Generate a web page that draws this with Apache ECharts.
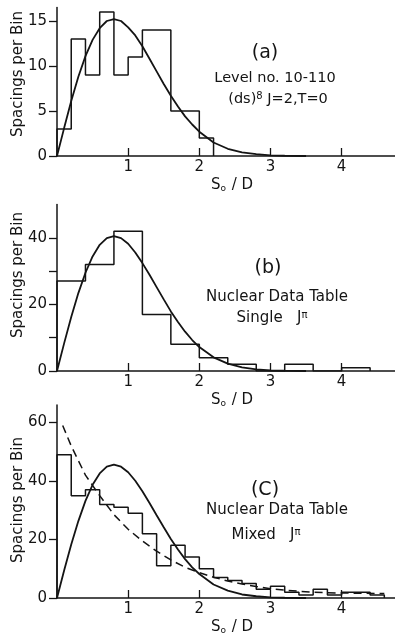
<!DOCTYPE html>
<html>
<head>
<meta charset="utf-8">
<script src="https://cdn.jsdelivr.net/npm/echarts@6/dist/echarts.min.js"></script>
<style>
  html, body { margin: 0; padding: 0; background: #fff; }
  #chart { width: 395px; height: 636px; }
</style>
</head>
<body>
<div id="chart"></div>
<script>
// histogram counts (spacings per bin), left edge at 0
const binWidthA = 0.2;
const countsA = [3, 13, 9, 16, 9, 11, 14, 14, 5, 5, 2];
const binWidthB = 0.4;
const countsB = [27, 32, 42, 17, 8, 4, 2, 0, 2, 0, 1];
const binWidthC = 0.2;
const countsC = [49, 35, 37, 32, 31, 29, 22, 11, 18, 14, 10, 7, 6, 5, 3, 4, 2, 1, 3, 1, 2, 2, 1];

// solid curves
const curveX = [0, 0.1, 0.2, 0.3, 0.4, 0.5, 0.6, 0.7, 0.8, 0.9, 1.0, 1.1, 1.2, 1.3, 1.4, 1.5, 1.6, 1.7, 1.8, 1.9, 2.0, 2.2, 2.4, 2.6, 2.8, 3.0, 3.2, 3.5];
const curveA = [0, 3.1, 6.1, 8.8, 11.1, 12.9, 14.2, 15.0, 15.2, 15.0, 14.3, 13.4, 12.2, 10.8, 9.4, 8.0, 6.7, 5.5, 4.4, 3.5, 2.7, 1.5, 0.8, 0.4, 0.2, 0.08, 0.03, 0];
const curveB = [0, 8.3, 16.2, 23.4, 29.5, 34.4, 37.9, 39.9, 40.5, 39.9, 38.2, 35.6, 32.4, 28.9, 25.2, 21.5, 17.9, 14.7, 11.8, 9.3, 7.2, 4.1, 2.2, 1.1, 0.5, 0.2, 0.08, 0];
const curveC = [0, 9.4, 18.3, 26.3, 33.2, 38.7, 42.6, 44.9, 45.6, 44.9, 43.0, 40.1, 36.5, 32.5, 28.3, 24.2, 20.2, 16.6, 13.3, 10.5, 8.2, 4.6, 2.5, 1.2, 0.6, 0.24, 0.09, 0];

// dashed curve in (c)
const dashX = [0.08, 0.2, 0.4, 0.6, 0.8, 1.0, 1.2, 1.4, 1.6, 1.8, 2.0, 2.2, 2.4, 2.6, 2.8, 3.0, 3.2, 3.4, 3.6, 3.8, 4.0, 4.3, 4.6];
const dashC = [59, 52, 42, 35, 28.5, 23.5, 19.5, 16, 13, 10.5, 8.7, 7.1, 5.8, 4.8, 3.9, 3.2, 2.7, 2.3, 2.0, 1.8, 1.7, 1.6, 1.5];

// axis ticks
const xTicks = [1, 2, 3, 4];
const yTicksA = [0, 5, 10, 15];
const yLabelsA = [0, 5, 10, 15];
const yTicksB = [0, 10, 20, 30, 40];
const yLabelsB = [0, 20, 40];
const yTicksC = [0, 20, 40, 60];
const yLabelsC = [0, 20, 40, 60];

const ink = "#141414";
const font = "DejaVu Sans";

function steps(counts, w) {
  const pts = [[0, 0]];
  counts.forEach((c, i) => {
    pts.push([i * w, c]);
    pts.push([(i + 1) * w, c]);
  });
  pts.push([counts.length * w, 0]);
  return pts;
}

function zip(xs, ys) {
  return xs.map((x, i) => [x, ys[i]]);
}

const grids = [
  { left: 57, right: 0, top: 7.5, height: 148.5 },
  { left: 57, right: 0, top: 204.5, height: 166.5 },
  { left: 57, right: 0, top: 405, height: 198 }
];

const xAxisOf = (i) => ({
  type: "value",
  gridIndex: i,
  min: 0,
  max: 4.75,
  axisLine: { lineStyle: { color: ink, width: 1.5 } },
  axisTick: { inside: true, length: 8, customValues: xTicks, lineStyle: { color: ink, width: 1.3 } },
  axisLabel: { customValues: xTicks, margin: 4, color: ink, fontSize: 15, fontFamily: font },
  splitLine: { show: false },
  name: "{s|S}{o|o}{s| / D}",
  nameLocation: "middle",
  nameGap: 19,
  nameTextStyle: {
    padding: [0, 0, 0, 12],
    rich: {
      s: { fontSize: 15, fontFamily: font, color: ink, lineHeight: 18, verticalAlign: "bottom" },
      o: { fontSize: 9, fontFamily: font, color: ink, lineHeight: 18, verticalAlign: "bottom", padding: [0, 1, 0, 0] }
    }
  }
});

const yAxisOf = (i, max, ticks, labels) => ({
  type: "value",
  gridIndex: i,
  min: 0,
  max: max,
  axisLine: { show: true, lineStyle: { color: ink, width: 1.5 } },
  axisTick: { show: true, length: 8, customValues: ticks, lineStyle: { color: ink, width: 1.3 } },
  axisLabel: { customValues: labels, margin: 10, color: ink, fontSize: 15, fontFamily: font },
  splitLine: { show: false }
});

const histStyle = { color: ink, width: 1.5 };
const curveStyle = { color: ink, width: 1.8 };

const lineSeries = (i, data, style) => ({
  type: "line",
  xAxisIndex: i,
  yAxisIndex: i,
  data: data,
  showSymbol: false,
  symbol: "none",
  smooth: false,
  lineStyle: style,
  silent: true,
  animation: false,
  z: 3
});

const txt = (x, y, text, size, rich) => ({
  type: "text",
  x: x,
  y: y,
  style: {
    text: text,
    fill: ink,
    font: size + "px " + font,
    align: "center",
    verticalAlign: "middle",
    rich: rich
  }
});

const sup = { sup: { fontSize: 10, fontFamily: font, fill: ink, verticalAlign: "top", padding: [0, 0, 6, 0] } };

const yName = (y) => ({
  type: "text",
  x: 18,
  y: y,
  rotation: Math.PI / 2,
  style: {
    text: "Spacings per Bin",
    fill: ink,
    font: "15px " + font,
    align: "center",
    verticalAlign: "middle"
  }
});

const chart = echarts.init(document.getElementById("chart"));

chart.setOption({
  animation: false,
  backgroundColor: "#fff",
  grid: grids,
  xAxis: [xAxisOf(0), xAxisOf(1), xAxisOf(2)],
  yAxis: [
    yAxisOf(0, 16.5, yTicksA, yLabelsA),
    yAxisOf(1, 50, yTicksB, yLabelsB),
    yAxisOf(2, 66, yTicksC, yLabelsC)
  ],
  series: [
    lineSeries(0, steps(countsA, binWidthA), histStyle),
    lineSeries(0, zip(curveX, curveA), curveStyle),
    lineSeries(1, steps(countsB, binWidthB), histStyle),
    lineSeries(1, zip(curveX, curveB), curveStyle),
    lineSeries(2, steps(countsC, binWidthC), histStyle),
    lineSeries(2, zip(curveX, curveC), curveStyle),
    lineSeries(2, zip(dashX, dashC), { color: ink, width: 1.5, type: [8, 5] })
  ],
  graphic: [
    yName(74),
    yName(275),
    yName(500),
    txt(265, 53, "(a)", 19),
    txt(275, 78, "Level no. 10-110", 14.5),
    txt(278, 99, "(ds){sup|8} J=2,T=0", 14.5, sup),
    txt(268, 268, "(b)", 19),
    txt(277, 297, "Nuclear Data Table", 15),
    txt(272, 318, "Single   J{sup|π}", 15, sup),
    txt(265, 490, "(C)", 19),
    txt(277, 510, "Nuclear Data Table", 15),
    txt(266, 535, "Mixed   J{sup|π}", 15, sup)
  ]
});
</script>
</body>
</html>
